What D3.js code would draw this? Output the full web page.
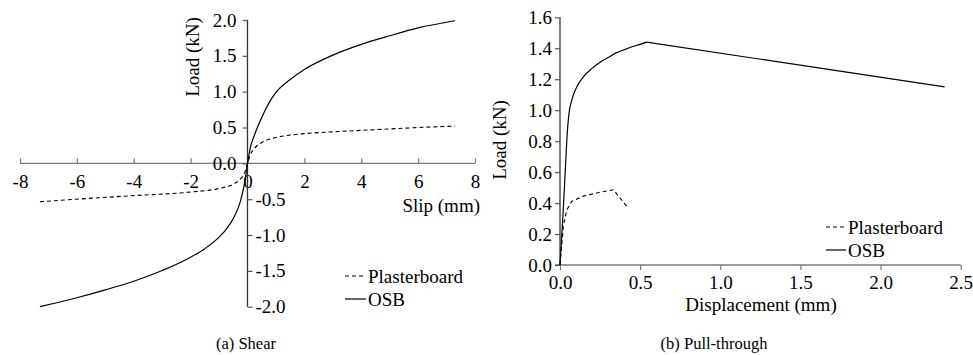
<!DOCTYPE html>
<html><head><meta charset="utf-8">
<script src="https://cdn.jsdelivr.net/npm/d3@7"></script>
<style>
body{margin:0;background:#fff}
svg text{font-family:"Liberation Serif","Tinos","DejaVu Serif",serif !important;fill:#000}
</style>
</head><body>
<svg id="c" width="973" height="355"></svg>
<script>
// ---- (a) Shear data ----
const shearXTicks = [-8,-6,-4,-2,0,2,4,6,8];
const shearYTicksPos = [0,0.5,1,1.5,2];
const shearYTicksNeg = [-0.5,-1,-1.5,-2];
const shearOSBSlip = [-7.3,-6,-5,-4,-3,-2,-1.5,-1,-0.75,-0.5,-0.25,-0.1,0,0.1,0.25,0.5,0.75,1,1.5,2,3,4,5,6,7.3];
const shearOSBLoad = [-2.0,-1.875,-1.765,-1.645,-1.495,-1.31,-1.19,-1.03,-0.92,-0.77,-0.53,-0.27,0,0.22,0.40,0.64,0.84,0.99,1.17,1.31,1.51,1.66,1.78,1.89,1.99];
const shearPBSlip = [-7.3,-6,-4,-2,-1,-0.5,-0.25,-0.1,0,0.1,0.25,0.5,1,1.5,2,3,4,5,6,7.3];
const shearPBLoad = [-0.535,-0.50,-0.45,-0.40,-0.35,-0.29,-0.22,-0.13,0,0.12,0.21,0.29,0.36,0.395,0.415,0.44,0.46,0.48,0.50,0.52];

// ---- (b) Pull-through data ----
const pullXTicks = [0,0.5,1,1.5,2,2.5];
const pullYTicks = [0,0.2,0.4,0.6,0.8,1.0,1.2,1.4,1.6];
const pullOSBDisp = [0,0.02,0.035,0.045,0.055,0.075,0.1,0.15,0.2,0.25,0.3,0.35,0.4,0.45,0.5,0.54,2.4];
const pullOSBLoad = [0,0.35,0.65,0.85,0.97,1.07,1.14,1.22,1.27,1.31,1.34,1.37,1.39,1.41,1.425,1.44,1.15];
const pullPBDisp = [0,0.01,0.021,0.042,0.073,0.146,0.25,0.333,0.416];
const pullPBLoad = [0,0.12,0.25,0.355,0.41,0.445,0.47,0.486,0.38];

const legendLabels = ["Plasterboard","OSB"];
const FS = 19;
const CAP = 16.5;

const svg = d3.select("#c");

function styleAxis(g, fs){
  g.attr("font-family",null).attr("font-size",null);
  g.select(".domain").remove();
  g.selectAll(".tick line").attr("stroke","#555").attr("stroke-width",1.2);
  g.selectAll(".tick text").style("font-size",fs+"px").attr("fill","#000");
}

function zip(a,b){ return a.map((v,i)=>[v,b[i]]); }

// ================= (a) Shear =================
{
  const x = d3.scaleLinear().domain([-8,8]).range([20,475]);
  const y = d3.scaleLinear().domain([-2,2]).range([306.7,20]);
  const g = svg.append("g");

  g.append("line").attr("x1",x(-8)).attr("x2",x(8)).attr("y1",y(0)).attr("y2",y(0))
    .attr("stroke","#7a7a7a").attr("stroke-width",1.4);
  const xa = g.append("g").attr("transform",`translate(0,${y(0)})`)
    .call(d3.axisBottom(x).tickValues(shearXTicks).tickSize(-5).tickPadding(11).tickFormat(d=>String(d)));
  styleAxis(xa, FS);
  xa.selectAll(".tick line").attr("stroke","#7a7a7a");

  g.append("line").attr("x1",x(0)).attr("x2",x(0)).attr("y1",y(2)).attr("y2",y(-2))
    .attr("stroke","#333").attr("stroke-width",1.3);
  const ya1 = g.append("g").attr("transform",`translate(${x(0)},0)`)
    .call(d3.axisLeft(y).tickValues(shearYTicksPos).tickSize(5).tickPadding(6).tickFormat(d=>d.toFixed(1)));
  styleAxis(ya1, FS);
  const ya2 = g.append("g").attr("transform",`translate(${x(0)},0)`)
    .call(d3.axisRight(y).tickValues(shearYTicksNeg).tickSize(5).tickPadding(3).tickFormat(d=>d.toFixed(1)));
  styleAxis(ya2, FS);

  const line = d3.line().x(d=>x(d[0])).y(d=>y(d[1])).curve(d3.curveMonotoneX);
  g.append("path").attr("d",line(zip(shearPBSlip,shearPBLoad))).attr("fill","none")
    .attr("stroke","#000").attr("stroke-width",1.1).attr("stroke-dasharray","4,3");
  g.append("path").attr("d",line(zip(shearOSBSlip,shearOSBLoad))).attr("fill","none")
    .attr("stroke","#000").attr("stroke-width",1.2);

  g.append("text").attr("transform",`translate(192,57) rotate(-90)`).attr("text-anchor","middle")
    .attr("dominant-baseline","central").style("font-size",FS+"px").text("Load (kN)");
  g.append("text").attr("x",480).attr("y",205).attr("text-anchor","end")
    .attr("dominant-baseline","central").style("font-size",FS+"px").text("Slip (mm)");

  const lg = g.append("g");
  [[276,"4,3"],[299,null]].forEach((r,i)=>{
    const l = lg.append("line").attr("x1",345).attr("x2",366).attr("y1",r[0]).attr("y2",r[0])
      .attr("stroke","#000").attr("stroke-width",1.2);
    if(r[1]) l.attr("stroke-dasharray",r[1]);
    lg.append("text").attr("x",368).attr("y",r[0]).attr("dominant-baseline","central")
      .style("font-size",FS+"px").text(legendLabels[i]);
  });

  g.append("text").attr("x",246).attr("y",343).attr("text-anchor","middle")
    .attr("dominant-baseline","central").style("font-size",CAP+"px").text("(a) Shear");
}

// ================= (b) Pull-through =================
{
  const x = d3.scaleLinear().domain([0,2.5]).range([560,960.7]);
  const y = d3.scaleLinear().domain([0,1.6]).range([265,17.3]);
  const g = svg.append("g");

  g.append("line").attr("x1",555).attr("x2",x(2.5)).attr("y1",y(0)).attr("y2",y(0))
    .attr("stroke","#7a7a7a").attr("stroke-width",1.4);
  const xa = g.append("g").attr("transform",`translate(0,${y(0)})`)
    .call(d3.axisBottom(x).tickValues(pullXTicks).tickSize(5).tickPadding(6).tickFormat(d=>d.toFixed(1)));
  styleAxis(xa, FS);
  xa.selectAll(".tick line").attr("stroke","#7a7a7a");

  g.append("line").attr("x1",x(0)).attr("x2",x(0)).attr("y1",y(1.6)).attr("y2",y(0))
    .attr("stroke","#333").attr("stroke-width",1.3);
  const ya = g.append("g").attr("transform",`translate(${x(0)},0)`)
    .call(d3.axisLeft(y).tickValues(pullYTicks).tickSize(5).tickPadding(3).tickFormat(d=>d.toFixed(1)));
  styleAxis(ya, FS);

  const line = d3.line().x(d=>x(d[0])).y(d=>y(d[1]));
  g.append("path").attr("d",line(zip(pullPBDisp,pullPBLoad))).attr("fill","none")
    .attr("stroke","#000").attr("stroke-width",1.1).attr("stroke-dasharray","4,3");
  const peak = d3.maxIndex(pullOSBLoad);
  const osb = zip(pullOSBDisp,pullOSBLoad);
  const smooth = d3.line().x(d=>x(d[0])).y(d=>y(d[1])).curve(d3.curveMonotoneX);
  g.append("path").attr("d",smooth(osb.slice(0,peak+1))).attr("fill","none")
    .attr("stroke","#000").attr("stroke-width",1.2);
  g.append("path").attr("d",line(osb.slice(peak))).attr("fill","none")
    .attr("stroke","#000").attr("stroke-width",1.2);

  g.append("text").attr("transform",`translate(499,140) rotate(-90)`).attr("text-anchor","middle")
    .attr("dominant-baseline","central").style("font-size",FS+"px").text("Load (kN)");
  g.append("text").attr("x",761).attr("y",304).attr("text-anchor","middle")
    .attr("dominant-baseline","central").style("font-size",FS+"px").text("Displacement (mm)");

  const lg = g.append("g");
  [[227,"4,3"],[250,null]].forEach((r,i)=>{
    const l = lg.append("line").attr("x1",826).attr("x2",846).attr("y1",r[0]).attr("y2",r[0])
      .attr("stroke","#000").attr("stroke-width",1.2);
    if(r[1]) l.attr("stroke-dasharray",r[1]);
    lg.append("text").attr("x",848).attr("y",r[0]).attr("dominant-baseline","central")
      .style("font-size",FS+"px").text(legendLabels[i]);
  });

  g.append("text").attr("x",714).attr("y",343).attr("text-anchor","middle")
    .attr("dominant-baseline","central").style("font-size",CAP+"px").text("(b) Pull-through");
}
</script>
</body></html>
